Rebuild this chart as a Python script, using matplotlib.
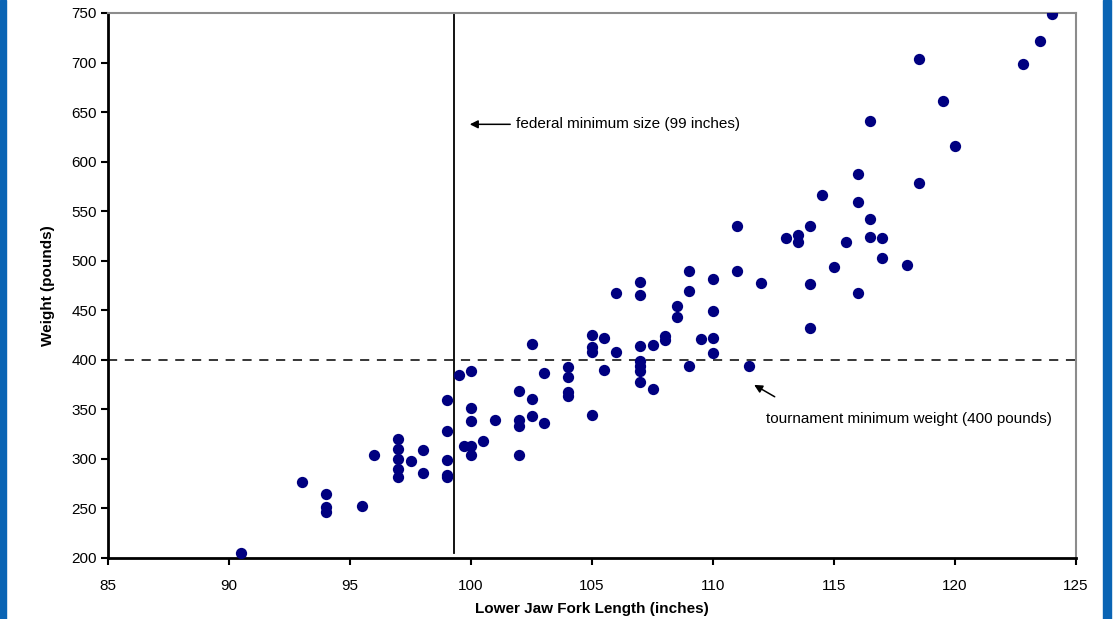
import matplotlib
matplotlib.use("Agg")
import matplotlib.pyplot as plt
from matplotlib.patches import Rectangle

plt.rcParams['font.family'] = ['Liberation Sans', 'DejaVu Sans']

length = [90.5, 93, 94, 94, 94, 95.5, 96,
          97, 97, 97, 97, 97, 97.5, 98, 98,
          99, 99, 99, 99, 99, 99.5, 99.7,
          100, 100, 100, 100, 100, 100.5, 101,
          102, 102, 102, 102, 102.5, 102.5, 102.5, 103, 103,
          104, 104, 104, 104, 105, 105, 105, 105, 105.5, 105.5,
          106, 106, 107, 107, 107, 107, 107, 107, 107,
          107.5, 107.5, 108, 108, 108.5, 108.5, 109, 109, 109, 109.5,
          110, 110, 110, 110, 111, 111, 111.5, 112, 113, 113.5, 113.5,
          114, 114, 114, 114.5, 115, 115.5, 116, 116, 116,
          116.5, 116.5, 116.5, 117, 117, 118, 118.5, 118.5,
          119.5, 120, 122.8, 123.5, 124]
weight = [205, 276, 264, 251, 246, 252, 304,
          320, 310, 300, 290, 281, 298, 309, 286,
          359, 328, 299, 284, 281, 384, 313,
          389, 351, 338, 313, 304, 318, 339,
          368, 339, 333, 304, 416, 360, 343, 386, 336,
          393, 382, 367, 363, 425, 413, 408, 344, 422, 390,
          467, 408, 478, 465, 414, 399, 394, 389, 377,
          415, 370, 424, 420, 454, 443, 489, 469, 394, 421,
          481, 449, 422, 407, 535, 489, 394, 477, 523, 526, 519,
          535, 476, 432, 566, 494, 519, 587, 559, 467,
          641, 542, 524, 523, 503, 496, 704, 578,
          661, 616, 699, 722, 749]

x_ticks = [85, 90, 95, 100, 105, 110, 115, 120, 125]
y_ticks = [200, 250, 300, 350, 400, 450, 500, 550, 600, 650, 700, 750]
federal_min = 99.3
tournament_min = 400

fig = plt.figure(figsize=(11.17, 6.19), dpi=100)
ax = fig.add_axes([108/1117, 1-557.7/619, (1076-108)/1117, (557.7-13)/619])

ax.scatter(length, weight, s=66, marker='o', color='#000080', zorder=3, linewidths=0)

ax.axhline(tournament_min, color='black', lw=1.1, ls=(0, (6, 5)), zorder=2)
ax.plot([federal_min, federal_min], [205, 750], color='black', lw=1.3, zorder=2)

ax.set_xlim(85, 125)
ax.set_ylim(200, 750)
ax.set_xticks(x_ticks)
ax.set_yticks(y_ticks)
ax.tick_params(axis='both', direction='out', length=5, width=1.5, labelsize=11, colors='black')
ax.tick_params(axis='x', pad=10)
ax.tick_params(axis='y', pad=3)

for s in ['left', 'bottom']:
    ax.spines[s].set_color('black')
    ax.spines[s].set_linewidth(2)
for s in ['top', 'right']:
    ax.spines[s].set_color('#8c8c8c')
    ax.spines[s].set_linewidth(1.5)

ax.set_xlabel('Lower Jaw Fork Length (inches)', fontsize=11, fontweight='bold', labelpad=7)
ax.set_ylabel('Weight (pounds)', fontsize=11, fontweight='bold', labelpad=12)

ax.annotate('federal minimum size (99 inches)', xy=(99.95, 637.6), xytext=(101.85, 637.6),
            fontsize=11, va='center', ha='left',
            arrowprops=dict(arrowstyle='-|>', color='black', lw=1.1, shrinkA=2, shrinkB=0,
                            mutation_scale=12))
ax.annotate('', xy=(111.7, 374.5), xytext=(112.55, 362.5),
            arrowprops=dict(arrowstyle='-|>', color='black', lw=1.1, shrinkA=0, shrinkB=0,
                            mutation_scale=12))
ax.text(112.2, 340, 'tournament minimum weight (400 pounds)', fontsize=11, va='center', ha='left')

border = '#0a64b4'
fig.patches.append(Rectangle((0, 0), 6/1117, 1, transform=fig.transFigure, color=border, zorder=0))
fig.patches.append(Rectangle((1103/1117, 0), 8/1117, 1, transform=fig.transFigure, color=border, zorder=0))

fig.savefig('out.png', dpi=100)
